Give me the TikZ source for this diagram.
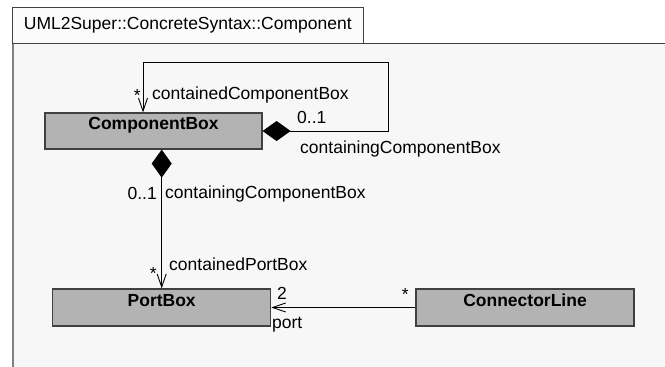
\documentclass[tikz,border=0pt]{standalone}
\usepackage{fontspec}
\setmainfont{Liberation Sans}
\usetikzlibrary{arrows.meta}
\definecolor{pkgfill}{HTML}{F7F7F7}
\definecolor{tabfill}{HTML}{FBFBFB}
\definecolor{clsfill}{HTML}{B3B3B3}
\definecolor{clsline}{HTML}{404040}
\definecolor{pkgside}{HTML}{808080}
\tikzset{
  x=1pt, y=-1pt,
  every node/.style={font=\fontsize{17.5}{20}\selectfont},
  cls/.style={draw=clsline, fill=clsfill, line width=1.2pt, minimum width=218, minimum height=37,
    inner sep=0, text height=12.7, text depth=14.9, font=\fontsize{17.5}{20}\selectfont\bfseries},
  lbl/.style={inner sep=0},
  assoc/.style={draw=black, line width=0.9pt},
  openhead/.style={-{Straight Barb[length=13pt,width=9pt,line width=0.9pt]}},
  comphead/.style={{Diamond[length=28pt,width=20pt]}-{Straight Barb[length=13pt,width=9pt,line width=0.9pt]}},
}
\begin{document}
\begin{tikzpicture}
\useasboundingbox (0,0) rectangle (665,367);
\clip (0,0) rectangle (665,367);

% package body and tab
\fill[pkgfill] (12,43) rectangle (680,380);
\draw[pkgside, line width=2pt] (13,43) -- (13,380);
\draw[clsline, line width=0.9pt] (12,43) -- (680,43);
\node[draw=clsline, fill=tabfill, line width=0.9pt, minimum width=350.7, minimum height=36.3,
      inner sep=0, anchor=north west] (tab) at (12,6.7) {UML2Super::ConcreteSyntax::Component};

% classes
\node[cls, minimum width=217, minimum height=36] (cb) at (153.5,131) {ComponentBox};
\node[cls] (pb) at (161.7,307.5) {PortBox};
\node[cls] (cl) at (525,307.5) {ConnectorLine};

% self association of ComponentBox
\coordinate (loopcorner) at (388,62);
\draw[assoc, comphead] (cb.east) -| (loopcorner) -| ([xshift=-10.5pt]cb.north);

% ComponentBox contains PortBox
\draw[assoc, comphead] (cb.south -| pb.north) -- (pb.north);

% ConnectorLine refers to PortBox
\draw[assoc, openhead] (cl.west) -- (pb.east);

% end labels
\node[lbl, anchor=base east] (m1) at (141,101) {*};
\node[lbl, anchor=base west] (r1) at (152,99) {containedComponentBox};
\node[lbl, anchor=base west] (m2) at (297,123) {0..1};
\node[lbl, anchor=base west] (r2) at (300,153) {containingComponentBox};
\node[lbl, anchor=base east] (m3) at (157,199) {0..1};
\node[lbl, anchor=base west] (r3) at (165,198) {containingComponentBox};
\node[lbl, anchor=base east] (m4) at (157,279) {*};
\node[lbl, anchor=base west] (r4) at (169,270) {containedPortBox};
\node[lbl, anchor=base west] (m5) at (277,299) {2};
\node[lbl, anchor=base west] (r5) at (272,328) {port};
\node[lbl, anchor=base east] (m6) at (409,300) {*};
\end{tikzpicture}
\end{document}
